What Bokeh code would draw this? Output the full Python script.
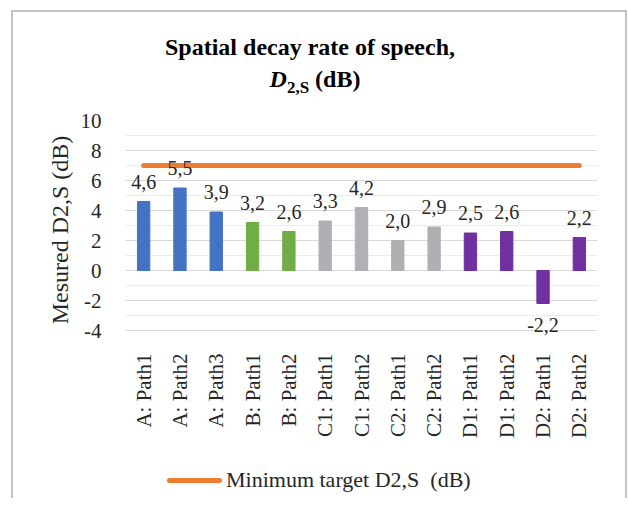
import math
from bokeh.plotting import figure
from bokeh.layouts import column
from bokeh.models import (ColumnDataSource, Div, SingleIntervalTicker, Range1d,
                          FactorRange)
from bokeh.core.properties import value as V
from bokeh.embed import file_html
from bokeh.resources import INLINE

categories = ["A: Path1", "A: Path2", "A: Path3", "B: Path1", "B: Path2",
              "C1: Path1", "C1: Path2", "C2: Path1", "C2: Path2",
              "D1: Path1", "D1: Path2", "D2: Path1", "D2: Path2"]
values = [4.6, 5.5, 3.9, 3.2, 2.6, 3.3, 4.2, 2.0, 2.9, 2.5, 2.6, -2.2, 2.2]
groups = ["A", "A", "A", "B", "B", "C1", "C1", "C2", "C2", "D1", "D1", "D2", "D2"]
group_colors = {"A": "#4472C4", "B": "#70AD47", "C1": "#B0B0B4", "C2": "#B0B0B4",
                "D1": "#7030A0", "D2": "#7030A0"}
target_value = 7
target_label = "Minimum target D2,S\u00a0\u00a0(dB)"
y_ticks = [-4, -2, 0, 2, 4, 6, 8, 10]

FONT = "Liberation Serif"
TXT = "#262626"
ORANGE = "#ED7D31"
W = 612

colors = [group_colors[g] for g in groups]
labels = [f"{v:.1f}".replace(".", ",") for v in values]

src = ColumnDataSource(dict(cat=categories, val=values, color=colors, lab=labels))
pos = ColumnDataSource(dict(cat=[c for c, v in zip(categories, values) if v >= 0],
                            val=[v for v in values if v >= 0],
                            lab=[l for l, v in zip(labels, values) if v >= 0]))
neg = ColumnDataSource(dict(cat=[c for c, v in zip(categories, values) if v < 0],
                            val=[v for v in values if v < 0],
                            lab=[l for l, v in zip(labels, values) if v < 0]))
tgt = ColumnDataSource(dict(cat=categories, val=[target_value] * len(categories)))

# ---- title ----
title_html = (
    f"<div style=\"width:{W}px;box-sizing:border-box;display:block;"
    f"font-family:'{FONT}';font-weight:bold;font-size:24px;color:#000;"
    "text-align:center;line-height:32px;padding-top:19px;padding-right:18px;\">"
    "Spatial decay rate of speech,<br>"
    "<span style=\"padding-left:10px\"></span>"
    "<i>D</i><sub style=\"font-size:17px;vertical-align:-6px;line-height:0\">2,S</sub>"
    " (dB)</div>")
title_div = Div(text=title_html, width=W, height=88, margin=0)

# ---- plot ----
# y range extends a little below -4 so the negative value label is not clipped
p = figure(x_range=FactorRange(*categories),
           y_range=Range1d(y_ticks[0] - 0.6, y_ticks[-1]),
           width=W, height=342, output_backend="svg", toolbar_location=None,
           min_border_left=112, min_border_right=28, min_border_top=20,
           min_border_bottom=103, margin=0)
p.outline_line_color = None
p.background_fill_color = "white"
p.border_fill_color = "white"

p.vbar(x="cat", top="val", bottom=0, width=0.34, fill_color="color",
       line_color="color", source=src)
p.line(x="cat", y="val", source=tgt, line_color=ORANGE, line_width=5,
       line_cap="round")

p.text(x="cat", y="val", text="lab", source=pos, text_font=V(FONT),
       text_font_size="20px", text_color=TXT, text_align="center",
       text_baseline="bottom", y_offset=-13)
p.text(x="cat", y="val", text="lab", source=neg, text_font=V(FONT),
       text_font_size="20px", text_color=TXT, text_align="center",
       text_baseline="top", y_offset=14)

p.yaxis.ticker = SingleIntervalTicker(interval=2, num_minor_ticks=2)
p.yaxis.major_label_overrides = {t: str(t) for t in y_ticks if t < 0}
p.yaxis.axis_line_color = None
p.yaxis.major_tick_line_color = None
p.yaxis.minor_tick_line_color = None
p.yaxis.major_label_text_font = FONT
p.yaxis.major_label_text_font_size = "21px"
p.yaxis.major_label_text_color = TXT
p.yaxis.major_label_standoff = 18
p.yaxis.axis_label = "Mesured D2,S (dB)"
p.yaxis.axis_label_text_font = FONT
p.yaxis.axis_label_text_font_size = "24px"
p.yaxis.axis_label_text_font_style = "normal"
p.yaxis.axis_label_text_color = TXT
p.yaxis.axis_label_standoff = 5

p.xaxis.axis_line_color = None
p.xaxis.major_tick_line_color = None
p.xaxis.minor_tick_line_color = None
p.xaxis.major_label_orientation = math.pi / 2
p.xaxis.major_label_text_font = FONT
p.xaxis.major_label_text_font_size = "21px"
p.xaxis.major_label_text_color = TXT
p.xaxis.major_label_standoff = 8

p.xgrid.grid_line_color = None
p.ygrid.grid_line_color = "#d9d9d9"
p.ygrid.minor_grid_line_color = "#ececec"

# ---- legend ----
legend_html = (
    f"<div style=\"display:flex;align-items:center;height:26px;margin-top:25px;"
    f"margin-left:154px;font-family:'{FONT}';font-size:22px;color:{TXT};"
    "white-space:nowrap;\">"
    f"<span style=\"display:inline-block;width:55px;height:5px;background:{ORANGE};"
    "border-radius:3px;margin-right:4px;\"></span>"
    f"{target_label}</div>")
legend_div = Div(text=legend_html, width=W, height=56, margin=0)

layout = column(title_div, p, legend_div, spacing=0,
                styles={"border-top": "2px solid #c4c4c4",
                        "border-left": "2px solid #c4c4c4",
                        "border-right": "2px solid #c4c4c4",
                        "margin-left": "11px", "margin-top": "10px",
                        "background": "white"})

open("out.html", "w").write(file_html(layout, INLINE))
